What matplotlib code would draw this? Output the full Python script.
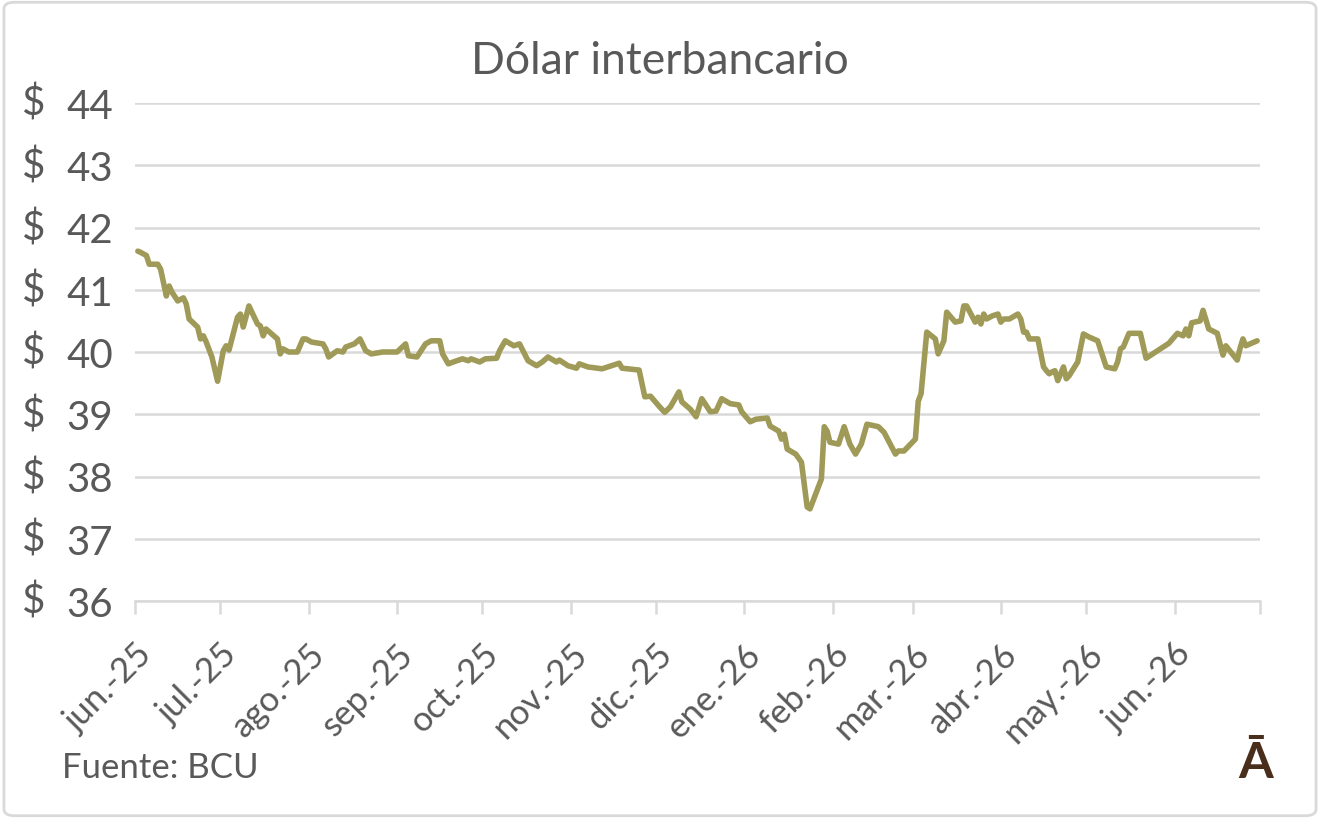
import matplotlib
matplotlib.use('Agg')
import matplotlib.pyplot as plt
import pandas as pd
from matplotlib.patches import FancyBboxPatch

# Cotización interbancaria
fechas = [
    '2025-06-02', '2025-06-03', '2025-06-05', '2025-06-06', '2025-06-09', '2025-06-10',
    '2025-06-12', '2025-06-13', '2025-06-14', '2025-06-16', '2025-06-18', '2025-06-19',
    '2025-06-20', '2025-06-23', '2025-06-24', '2025-06-25', '2025-06-26', '2025-06-28',
    '2025-06-30', '2025-07-02', '2025-07-03', '2025-07-04', '2025-07-07', '2025-07-08',
    '2025-07-09', '2025-07-11', '2025-07-14', '2025-07-15', '2025-07-16', '2025-07-17',
    '2025-07-21', '2025-07-22', '2025-07-23', '2025-07-25', '2025-07-28', '2025-07-30',
    '2025-07-31', '2025-08-02', '2025-08-06', '2025-08-07', '2025-08-08', '2025-08-11',
    '2025-08-13', '2025-08-14', '2025-08-17', '2025-08-19', '2025-08-21', '2025-08-23',
    '2025-08-27', '2025-09-01', '2025-09-04', '2025-09-05', '2025-09-08', '2025-09-11',
    '2025-09-13', '2025-09-16', '2025-09-17', '2025-09-19', '2025-09-22', '2025-09-24',
    '2025-09-26', '2025-09-27', '2025-09-30', '2025-10-02', '2025-10-06', '2025-10-07',
    '2025-10-09', '2025-10-12', '2025-10-14', '2025-10-17', '2025-10-20', '2025-10-22',
    '2025-10-24', '2025-10-27', '2025-10-28', '2025-10-31', '2025-11-03', '2025-11-04',
    '2025-11-07', '2025-11-12', '2025-11-14', '2025-11-18', '2025-11-19', '2025-11-21',
    '2025-11-25', '2025-11-27', '2025-11-29', '2025-12-02', '2025-12-04', '2025-12-06',
    '2025-12-09', '2025-12-10', '2025-12-13', '2025-12-15', '2025-12-17', '2025-12-20',
    '2025-12-22', '2025-12-24', '2025-12-27', '2025-12-30', '2025-12-31', '2026-01-03',
    '2026-01-05', '2026-01-09', '2026-01-10', '2026-01-13', '2026-01-14', '2026-01-15',
    '2026-01-16', '2026-01-19', '2026-01-21', '2026-01-23', '2026-01-24', '2026-01-28',
    '2026-01-29', '2026-01-30', '2026-01-31', '2026-02-03', '2026-02-05', '2026-02-07',
    '2026-02-09', '2026-02-11', '2026-02-13', '2026-02-17', '2026-02-19', '2026-02-23',
    '2026-02-24', '2026-02-26', '2026-03-02', '2026-03-03', '2026-03-04', '2026-03-06',
    '2026-03-09', '2026-03-10', '2026-03-12', '2026-03-13', '2026-03-16', '2026-03-18',
    '2026-03-19', '2026-03-20', '2026-03-23', '2026-03-24', '2026-03-25', '2026-03-26',
    '2026-03-27', '2026-03-29', '2026-03-31', '2026-04-01', '2026-04-02', '2026-04-04',
    '2026-04-07', '2026-04-08', '2026-04-09', '2026-04-10', '2026-04-11', '2026-04-14',
    '2026-04-16', '2026-04-17', '2026-04-18', '2026-04-19', '2026-04-20', '2026-04-21',
    '2026-04-23', '2026-04-24', '2026-04-25', '2026-04-28', '2026-04-30', '2026-05-02',
    '2026-05-05', '2026-05-08', '2026-05-11', '2026-05-12', '2026-05-13', '2026-05-14',
    '2026-05-16', '2026-05-20', '2026-05-22', '2026-05-26', '2026-05-30', '2026-06-02',
    '2026-06-04', '2026-06-05', '2026-06-06', '2026-06-07', '2026-06-10', '2026-06-11',
    '2026-06-13', '2026-06-16', '2026-06-18', '2026-06-19', '2026-06-23', '2026-06-24',
    '2026-06-25', '2026-06-26', '2026-06-30',
]
dolar = [
    41.62, 41.60, 41.55, 41.41, 41.41, 41.33,
    40.90, 41.06, 40.96, 40.82, 40.87, 40.77,
    40.53, 40.40, 40.21, 40.26, 40.16, 39.92,
    39.53, 40.02, 40.10, 40.03, 40.56, 40.61,
    40.40, 40.74, 40.45, 40.42, 40.26, 40.37,
    40.21, 39.97, 40.05, 40.00, 40.00, 40.21,
    40.21, 40.16, 40.13, 40.05, 39.92, 40.02,
    40.00, 40.08, 40.13, 40.21, 40.02, 39.97,
    40.00, 40.00, 40.13, 39.94, 39.92, 40.13,
    40.18, 40.18, 39.97, 39.81, 39.86, 39.89,
    39.86, 39.89, 39.84, 39.89, 39.90, 40.02,
    40.18, 40.10, 40.13, 39.86, 39.78, 39.84,
    39.92, 39.84, 39.87, 39.78, 39.74, 39.81,
    39.76, 39.73, 39.76, 39.82, 39.74, 39.73,
    39.71, 39.28, 39.29, 39.13, 39.03, 39.12,
    39.36, 39.20, 39.08, 38.96, 39.25, 39.04,
    39.05, 39.25, 39.17, 39.15, 39.04, 38.88,
    38.92, 38.94, 38.81, 38.73, 38.60, 38.68,
    38.44, 38.36, 38.23, 37.51, 37.48, 37.96,
    38.80, 38.73, 38.55, 38.52, 38.80, 38.52,
    38.36, 38.52, 38.84, 38.80, 38.71, 38.36,
    38.41, 38.41, 38.60, 39.21, 39.33, 40.32,
    40.21, 39.97, 40.18, 40.64, 40.48, 40.50,
    40.74, 40.74, 40.48, 40.56, 40.45, 40.61,
    40.53, 40.58, 40.61, 40.48, 40.53, 40.53,
    40.61, 40.53, 40.32, 40.32, 40.21, 40.21,
    39.76, 39.70, 39.65, 39.68, 39.70, 39.54,
    39.76, 39.57, 39.62, 39.84, 40.29, 40.24,
    40.18, 39.76, 39.73, 39.84, 40.05, 40.08,
    40.30, 40.30, 39.90, 40.02, 40.14, 40.30,
    40.26, 40.37, 40.26, 40.47, 40.50, 40.67,
    40.37, 40.30, 39.95, 40.10, 39.87, 40.06,
    40.21, 40.10, 40.18,
]
meses = ['jun.-25', 'jul.-25', 'ago.-25', 'sep.-25', 'oct.-25', 'nov.-25', 'dic.-25',
         'ene.-26', 'feb.-26', 'mar.-26', 'abr.-26', 'may.-26', 'jun.-26']
niveles = [36, 37, 38, 39, 40, 41, 42, 43, 44]

gris = '#595959'
plt.rcParams['font.family'] = ['Lato', 'DejaVu Sans']

fig = plt.figure(figsize=(13.2, 8.2), dpi=100)
ax = fig.add_axes([135 / 1320, 1 - 602 / 820, 1125 / 1320, 498 / 820])

ax.plot(pd.to_datetime(fechas), dolar, color='#A09A58', lw=4.0,
        solid_joinstyle='round', solid_capstyle='round', zorder=3)

ax.set_xlim(pd.Timestamp('2025-06-01'), pd.Timestamp('2026-07-01'))
ax.set_ylim(36, 44)

ticks = pd.date_range('2025-06-01', '2026-07-01', freq='MS')
ax.set_xticks(ticks)
ax.set_xticklabels(meses + [''], rotation=45, ha='right', rotation_mode='anchor')

# formato contable: "$" a la izquierda, número alineado a la derecha
ax.set_yticks(niveles)
ax.set_yticklabels([str(v) for v in niveles])
for v in niveles:
    ax.text(22 / 1125 - 135 / 1125, v, '$', transform=ax.get_yaxis_transform(),
            ha='left', va='center', fontsize=29, color=gris)

ax.grid(axis='y', color='#D9D9D9', lw=1.8)
ax.set_axisbelow(True)
for s in ['left', 'right', 'top']:
    ax.spines[s].set_visible(False)
ax.spines['bottom'].set_color('#D9D9D9')
ax.spines['bottom'].set_linewidth(1.8)

ax.tick_params(axis='y', length=0, pad=16, labelsize=29, labelcolor=gris)
ax.tick_params(axis='x', length=9, width=1.8, color='#D9D9D9', pad=17,
               labelsize=25, labelcolor=gris)

fig.text(0.5, 1 - 62 / 820, 'Dólar interbancario', ha='center', va='center',
         fontsize=32, color=gris)
fig.text(62 / 1320, 1 - 768 / 820, 'Fuente: BCU', ha='left', va='center',
         fontsize=25, color=gris)
fig.text(1256 / 1320, 1 - 764 / 820, 'Ā', ha='center', va='center',
         fontsize=36, fontweight='bold', color='#4A2E1C')

fig.patches.append(FancyBboxPatch((0.003, 0.004), 0.994, 0.992,
                                  boxstyle='round,pad=0,rounding_size=0.008',
                                  transform=fig.transFigure, fill=False,
                                  ec='#D9D9D9', lw=2))

fig.savefig('out.png', dpi=100)
